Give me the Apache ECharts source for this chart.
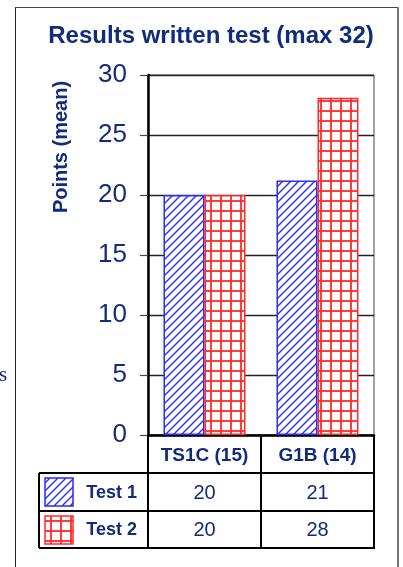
<!DOCTYPE html>
<html>
<head>
<meta charset="utf-8">
<script src="https://cdn.jsdelivr.net/npm/echarts@6/dist/echarts.min.js"></script>
<style>
html,body{margin:0;padding:0;background:#fff;}
#chart{width:403px;height:567px;}
</style>
</head>
<body>
<div id="chart"></div>
<script>
// ---- data ----
var categories = ['TS1C (15)', 'G1B (14)'];
var seriesNames = ['Test 1', 'Test 2'];
var test1Values = [20, 21.2];
var test2Values = [20, 28.1];
var test1Table = [20, 21];
var test2Table = [20, 28];
var yTicks = [0, 5, 10, 15, 20, 25, 30];

// ---- style ----
var NAVY = '#112b7d';
var BLUE = '#2a2aff';
var RED = '#ff2a2a';
var FONT = '"Liberation Sans", Arial, sans-serif';
var G = { left: 148, top: 75, right: 374, bottom: 435 };
var ROWS = [435, 473, 511, 548];
var TABLE_LEFT = 39;

function hatchPattern() {
  var c = document.createElement('canvas');
  c.width = 8; c.height = 8;
  var ctx = c.getContext('2d');
  ctx.fillStyle = '#fff'; ctx.fillRect(0, 0, 8, 8);
  ctx.strokeStyle = BLUE; ctx.lineWidth = 1.4;
  ctx.beginPath();
  ctx.moveTo(-1, 9); ctx.lineTo(9, -1);
  ctx.moveTo(-5, 5); ctx.lineTo(5, -5);
  ctx.moveTo(3, 13); ctx.lineTo(13, 3);
  ctx.stroke();
  return { image: c, repeat: 'repeat' };
}
function gridPattern() {
  var c = document.createElement('canvas');
  c.width = 10; c.height = 10;
  var ctx = c.getContext('2d');
  ctx.fillStyle = '#fff'; ctx.fillRect(0, 0, 10, 10);
  ctx.fillStyle = 'rgba(255,40,40,0.9)';
  ctx.fillRect(0, 0, 10, 2);
  ctx.fillRect(0, 0, 2, 10);
  return { image: c, repeat: 'repeat' };
}
var hatch = hatchPattern();
var gridPat = gridPattern();

var chart = echarts.init(document.getElementById('chart'), null, { renderer: 'canvas' });

var colW = (G.right - G.left) / categories.length;
var graphics = [];
function line(x1, y1, x2, y2, color, w) {
  graphics.push({ type: 'line', shape: { x1: x1, y1: y1, x2: x2, y2: y2 }, style: { stroke: color, lineWidth: w }, z: 100 });
}
// outer frame
line(15.5, 7, 15.5, 567, '#222', 1);
line(15, 7.5, 398, 7.5, '#444', 1);
line(398, 7, 398, 567, '#777', 2);
// table lines
line(G.left, ROWS[0], G.left, ROWS[3], '#000', 2);
for (var i = 1; i <= categories.length; i++) {
  line(G.left + i * colW, ROWS[0], G.left + i * colW, ROWS[3], '#000', 2);
}
line(TABLE_LEFT, ROWS[1], TABLE_LEFT, ROWS[3], '#000', 2);
for (var r = 1; r < ROWS.length; r++) {
  line(TABLE_LEFT, ROWS[r], G.right + 1, ROWS[r], '#000', 2);
}
// legend rows
var tables = [test1Table, test2Table];
var fills = [hatch, gridPat];
var strokes = [BLUE, RED];
for (var s = 0; s < seriesNames.length; s++) {
  var rowTop = ROWS[s + 1], rowBot = ROWS[s + 2], rowMid = (rowTop + rowBot) / 2;
  graphics.push({ type: 'rect', shape: { x: 45, y: rowTop + 5, width: 28, height: 28 },
    style: { fill: fills[s], stroke: strokes[s], lineWidth: 1.5 }, z: 100 });
  graphics.push({ type: 'text', x: 137, y: rowMid + 1, style: { text: seriesNames[s], fill: NAVY,
    font: 'bold 18px ' + FONT, align: 'right', verticalAlign: 'middle' }, z: 100 });
  for (var c = 0; c < categories.length; c++) {
    graphics.push({ type: 'text', x: G.left + (c + 0.5) * colW, y: rowMid + 1, style: { text: String(tables[s][c]), fill: NAVY,
      font: '20px ' + FONT, align: 'center', verticalAlign: 'middle' }, z: 100 });
  }
}
// y-axis name (rotated)
graphics.push({ type: 'text', x: 61, y: 147, rotation: Math.PI / 2, style: { text: 'Points (mean)', fill: NAVY,
  font: 'bold 20px ' + FONT, align: 'center', verticalAlign: 'middle' }, z: 100 });
// clipped stray text at left edge
graphics.push({ type: 'text', x: -1, y: 375, style: { text: 's', fill: NAVY,
  font: '21px "Liberation Serif", "Times New Roman", serif', align: 'left', verticalAlign: 'middle' }, z: 100 });

chart.setOption({
  backgroundColor: '#fff',
  animation: false,
  title: {
    text: 'Results written test (max 32)',
    left: 206, top: 19, textAlign: 'center',
    textStyle: { color: NAVY, fontSize: 24, fontWeight: 'bold', fontFamily: FONT }
  },
  grid: { left: G.left, top: G.top, width: G.right - G.left, height: G.bottom - G.top,
    show: true, borderColor: '#444', borderWidth: 1, backgroundColor: 'transparent' },
  xAxis: {
    type: 'category', data: categories,
    axisLine: { lineStyle: { color: '#000', width: 2.5 } },
    axisTick: { show: false },
    axisLabel: { interval: 0, color: NAVY, fontSize: 19, fontWeight: 'bold', margin: 11, fontFamily: FONT }
  },
  yAxis: {
    type: 'value', min: yTicks[0], max: yTicks[yTicks.length - 1], interval: yTicks[1] - yTicks[0],
    axisLine: { show: true, lineStyle: { color: '#000', width: 2.5 } },
    axisTick: { show: true, length: 8, lineStyle: { color: '#444', width: 1.2 } },
    axisLabel: { color: NAVY, fontSize: 26, margin: 21, fontFamily: FONT },
    splitLine: { show: true, lineStyle: { color: '#222', width: 1.3 } }
  },
  series: [
    { name: seriesNames[0], type: 'bar', data: test1Values, barWidth: 41, barGap: '0%',
      itemStyle: { color: hatch, borderColor: BLUE, borderWidth: 1.5 } },
    { name: seriesNames[1], type: 'bar', data: test2Values, barWidth: 41, barGap: '0%',
      itemStyle: { color: gridPat, borderColor: RED, borderWidth: 1.5 } }
  ],
  graphic: graphics
});
</script>
</body>
</html>
